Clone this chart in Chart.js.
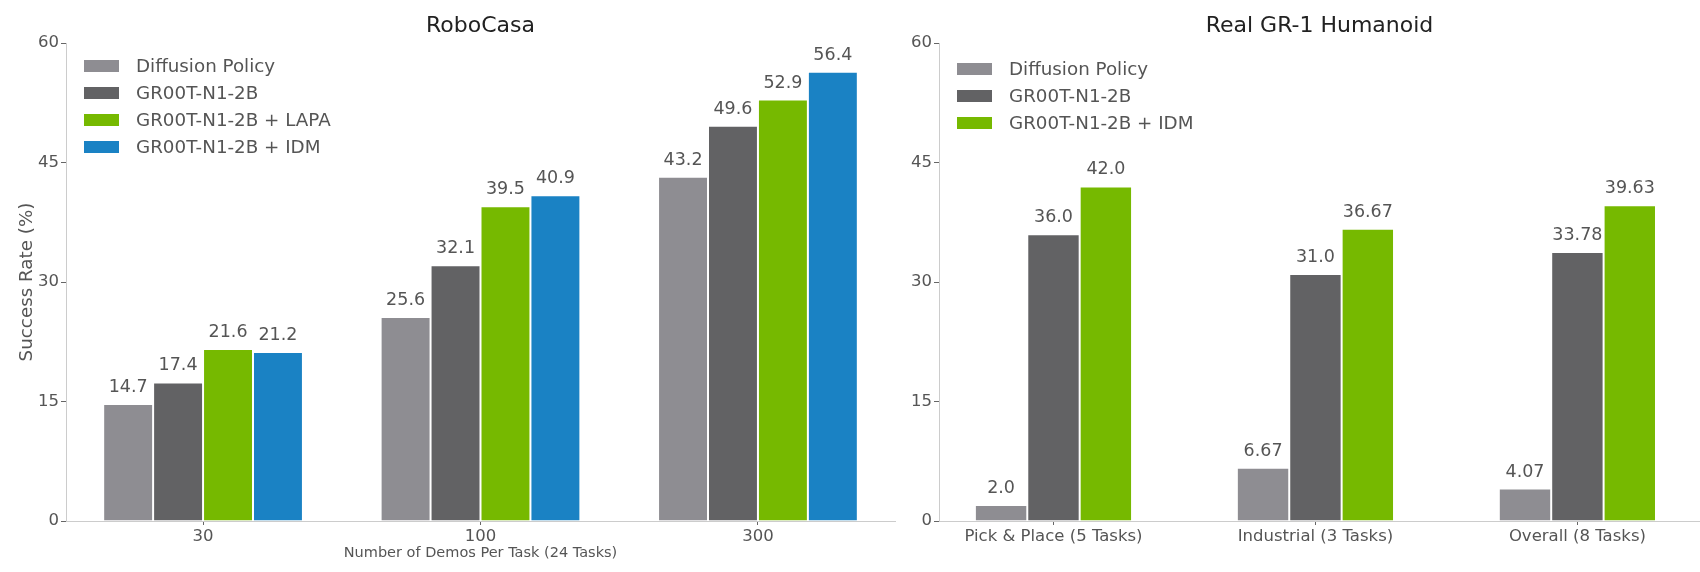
<!DOCTYPE html>
<html>
<head>
<meta charset="utf-8">
<script src="https://cdn.jsdelivr.net/npm/chart.js@4.4.1/dist/chart.umd.min.js"></script>
<style>
  html, body { margin: 0; padding: 0; background: #fff; }
  #wrap { position: relative; width: 1700px; height: 572px; }
  #left-box { position: absolute; left: 0; top: 0; width: 900px; height: 572px; }
  #right-box { position: absolute; left: 900px; top: 0; width: 800px; height: 572px; }
</style>
</head>
<body>
<div id="wrap">
  <div id="left-box"><canvas id="robocasa-chart" width="900" height="572"></canvas></div>
  <div id="right-box"><canvas id="gr1-chart" width="800" height="572"></canvas></div>
</div>
<script>
// RoboCasa panel
const roboCategories = ['30', '100', '300'];
const roboDiffusion = [14.7, 25.6, 43.2];
const roboGroot = [17.4, 32.1, 49.6];
const roboLapa = [21.6, 39.5, 52.9];
const roboIdm = [21.2, 40.9, 56.4];

// Real GR-1 panel
const realCategories = ['Pick & Place (5 Tasks)', 'Industrial (3 Tasks)', 'Overall (8 Tasks)'];
const realDiffusion = [2.0, 6.67, 4.07];
const realGroot = [36.0, 31.0, 33.78];
const realIdm = [42.0, 36.67, 39.63];

const yTicks = [0, 15, 30, 45, 60];

const GRAY = '#8e8d92';
const DARK = '#626264';
const GREEN = '#76b900';
const BLUE = '#1a82c4';
const TEXT = '#555555';
const FONT = "'DejaVu Sans', sans-serif";

Chart.defaults.font.family = FONT;
Chart.defaults.color = TEXT;

function points(values) {
    return values.map((v, i) => ({ x: i, y: v }));
}

function fmt(v) {
    // one decimal unless the value really has two
    return Math.abs(v * 10 - Math.round(v * 10)) < 1e-6 ? v.toFixed(1) : v.toFixed(2);
}

// numbers above the bars
const valueLabels = {
    id: 'valueLabels',
    afterDatasetsDraw(chart) {
        const ctx = chart.ctx;
        ctx.save();
        ctx.font = '17.5px ' + FONT;
        ctx.fillStyle = TEXT;
        ctx.textAlign = 'center';
        ctx.textBaseline = 'alphabetic';
        chart.data.datasets.forEach((ds, di) => {
            chart.getDatasetMeta(di).data.forEach((bar, i) => {
                ctx.fillText(fmt(ds.data[i].y), bar.x, bar.y - 12);
            });
        });
        ctx.restore();
    }
};

// legend in the top left corner of the plot
const boxLegend = {
    id: 'boxLegend',
    afterDraw(chart, args, opts) {
        const ctx = chart.ctx;
        const area = chart.chartArea;
        ctx.save();
        ctx.font = '18.3px ' + FONT;
        ctx.textBaseline = 'middle';
        ctx.textAlign = 'left';
        chart.data.datasets.forEach((ds, i) => {
            const cy = area.top + opts.first + i * 27;
            const bx = area.left + 18;
            ctx.fillStyle = ds.backgroundColor;
            ctx.fillRect(bx, cy - 6, 35, 12);
            ctx.fillStyle = TEXT;
            ctx.fillText(ds.label, bx + 52, cy + 1);
        });
        ctx.restore();
    }
};

function dataset(label, values, color) {
    return {
        label: label,
        data: points(values),
        backgroundColor: color,
        borderColor: '#ffffff',
        borderWidth: 1
    };
}

function makeOptions(cfg) {
    return {
        responsive: false,
        animation: false,
        devicePixelRatio: 1,
        layout: { padding: { left: 0, right: cfg.padRight, top: 0, bottom: 0 } },
        datasets: { bar: { categoryPercentage: cfg.groupWidth, barPercentage: 1 } },
        plugins: {
            legend: { display: false },
            tooltip: { enabled: false },
            title: {
                display: true,
                text: cfg.title,
                fullSize: false,
                color: '#222222',
                font: { size: 22, weight: 'normal', family: FONT },
                padding: { top: 13, bottom: 3.6 }
            },
            boxLegend: { first: cfg.legendTop }
        },
        scales: {
            x: {
                type: 'linear',
                offset: false,
                min: cfg.xMin,
                max: cfg.xMax,
                afterBuildTicks: s => { s.ticks = cfg.categories.map((c, i) => ({ value: i })); },
                afterFit: s => { s.height = 51; },
                ticks: {
                    callback: (v) => cfg.categories[v],
                    font: { size: 16.5 },
                    color: TEXT,
                    padding: 2,
                    maxRotation: 0,
                    autoSkip: false
                },
                grid: { display: true, offset: false, drawOnChartArea: false, drawTicks: true, tickLength: 4, color: '#666666' },
                border: { display: true, color: '#cccccc', width: 1 },
                title: {
                    display: !!cfg.xTitle,
                    text: cfg.xTitle || '',
                    color: TEXT,
                    font: { size: 14.5 },
                    padding: { top: 0, bottom: 10 }
                }
            },
            y: {
                min: 0,
                max: 60,
                afterBuildTicks: s => { s.ticks = yTicks.map(v => ({ value: v })); },
                afterFit: s => { s.width = cfg.yWidth; },
                ticks: { font: { size: 16.5 }, color: TEXT, padding: 2 },
                grid: { display: true, drawOnChartArea: false, drawTicks: true, tickLength: 5, color: '#666666' },
                border: { display: true, color: '#cccccc', width: 1 },
                title: {
                    display: !!cfg.yTitle,
                    text: cfg.yTitle || '',
                    color: TEXT,
                    font: { size: 18.3 },
                    padding: { top: 16, bottom: 0 }
                }
            }
        }
    };
}

new Chart(document.getElementById('robocasa-chart').getContext('2d'), {
    type: 'bar',
    data: {
        datasets: [
            dataset('Diffusion Policy', roboDiffusion, GRAY),
            dataset('GR00T-N1-2B', roboGroot, DARK),
            dataset('GR00T-N1-2B + LAPA', roboLapa, GREEN),
            dataset('GR00T-N1-2B + IDM', roboIdm, BLUE)
        ]
    },
    options: makeOptions({
        title: 'RoboCasa',
        categories: roboCategories,
        xMin: -0.494,
        xMax: 2.494,
        groupWidth: 0.72,
        padRight: 5,
        yWidth: 66,
        legendTop: 23,
        xTitle: 'Number of Demos Per Task (24 Tasks)',
        yTitle: 'Success Rate (%)'
    }),
    plugins: [valueLabels, boxLegend]
});

new Chart(document.getElementById('gr1-chart').getContext('2d'), {
    type: 'bar',
    data: {
        datasets: [
            dataset('Diffusion Policy', realDiffusion, GRAY),
            dataset('GR00T-N1-2B', realGroot, DARK),
            dataset('GR00T-N1-2B + IDM', realIdm, GREEN)
        ]
    },
    options: makeOptions({
        title: 'Real GR-1 Humanoid',
        categories: realCategories,
        xMin: -0.437,
        xMax: 2.468,
        groupWidth: 0.6,
        padRight: 0,
        yWidth: 39,
        legendTop: 26
    }),
    plugins: [valueLabels, boxLegend]
});
</script>
</body>
</html>
